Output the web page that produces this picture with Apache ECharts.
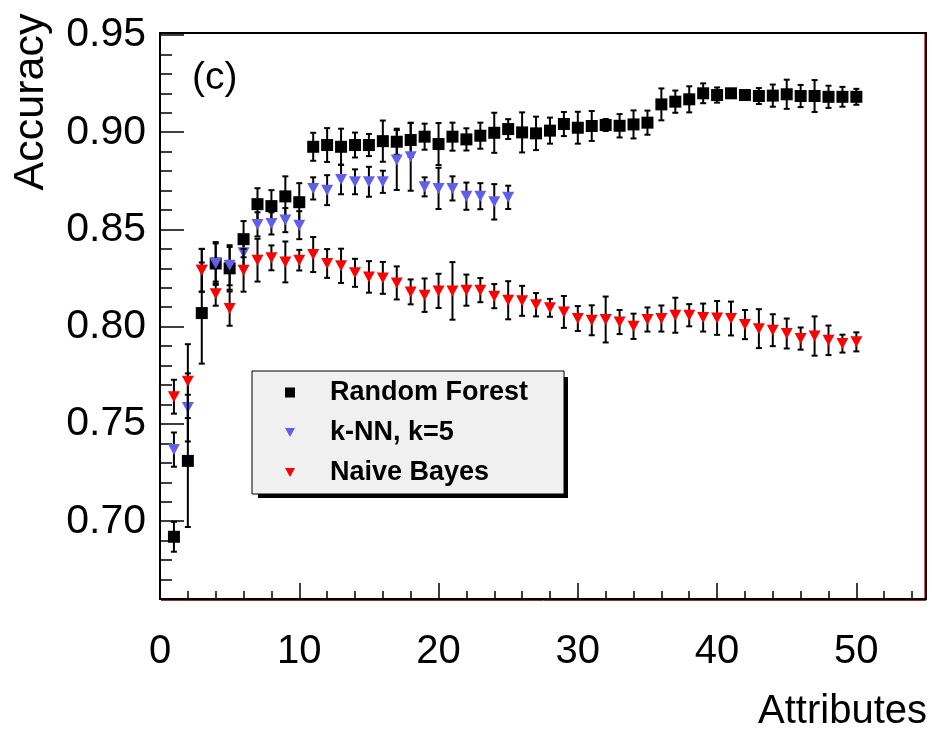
<!DOCTYPE html>
<html>
<head>
<meta charset="utf-8">
<script src="https://cdn.jsdelivr.net/npm/echarts@6/dist/echarts.min.js"></script>
<style>
html,body{margin:0;padding:0;background:#fff;}
#chart{width:932px;height:733px;}
</style>
</head>
<body>
<div id="chart"></div>
<script>
// ---- data ----
const attributes = [1,2,3,4,5,6,7,8,9,10,11,12,13,14,15,16,17,18,19,20,21,22,23,24,25,26,27,28,29,30,31,32,33,34,35,36,37,38,39,40,41,42,43,44,45,46,47,48,49,50];
const knnAttributes = [1,2,3,4,5,6,7,8,9,10,11,12,13,14,15,16,17,18,19,20,21,22,23,24,25];

const rfAcc = [0.692,0.731,0.807,0.8325,0.830,0.845,0.863,0.862,0.867,0.864,
  0.8925,0.8934,0.8925,0.8934,0.8934,0.8954,0.8951,0.896,0.8977,0.8939,
  0.8977,0.8963,0.8982,0.8997,0.9016,0.8999,0.8994,0.9008,0.9042,0.9023,
  0.9032,0.9037,0.9033,0.904,0.9049,0.9143,0.9157,0.9169,0.920,0.9191,
  0.920,0.9191,0.9186,0.9188,0.9195,0.9186,0.9186,0.9182,0.9182,0.9182];
const rfErr = [0.0077,0.034,0.026,0.011,0.011,0.0093,0.0082,0.0082,0.0103,0.0098,
  0.0072,0.0087,0.0093,0.0064,0.0057,0.0106,0.0067,0.0087,0.0067,0.0108,
  0.0072,0.0057,0.0067,0.0103,0.0051,0.0103,0.0086,0.0067,0.0062,0.0082,
  0.0077,0.0031,0.006,0.0072,0.0062,0.0082,0.0057,0.0067,0.0051,0.0039,
  0.001,0.001,0.0041,0.0057,0.0075,0.0057,0.0082,0.0057,0.0051,0.0041];

const knnAcc = [0.7368,0.7585,0.829,0.8325,0.8316,0.838,0.8526,0.8531,0.8548,0.8522,
  0.8711,0.8702,0.8757,0.8745,0.8745,0.8745,0.8857,0.8874,0.8719,0.8711,
  0.8711,0.8671,0.8671,0.8642,0.8665];
const knnErr = [0.0088,0.0175,0.011,0.0103,0.0103,0.0077,0.0062,0.0057,0.0062,0.0072,
  0.0057,0.0077,0.0076,0.0064,0.0077,0.0057,0.0154,0.0175,0.0049,0.0106,
  0.0062,0.007,0.0067,0.0091,0.006];

const nbAcc = [0.764,0.772,0.829,0.817,0.8093,0.829,0.8342,0.8354,0.8333,0.8342,
  0.8371,0.8325,0.8313,0.8277,0.8256,0.8251,0.8225,0.8179,0.8162,0.8184,
  0.8184,0.8188,0.8188,0.8157,0.8136,0.8133,0.8113,0.8097,0.8076,0.8042,
  0.8033,0.8037,0.8024,0.8002,0.8037,0.8042,0.8059,0.8059,0.8047,0.8045,
  0.8042,0.8011,0.799,0.7982,0.7965,0.7939,0.7952,0.793,0.7913,0.7922];
const nbErr = [0.0087,0.019,0.011,0.0062,0.0088,0.011,0.011,0.0064,0.0105,0.0053,
  0.009,0.0074,0.0088,0.0072,0.0081,0.0082,0.0085,0.0064,0.0086,0.0088,
  0.0148,0.008,0.0062,0.0062,0.0098,0.0077,0.006,0.0046,0.0082,0.0064,
  0.0077,0.0118,0.0062,0.0065,0.0062,0.0067,0.009,0.0057,0.0072,0.0087,
  0.0087,0.0075,0.01,0.0082,0.0077,0.0057,0.0101,0.0076,0.0046,0.0049];

const seriesNames = ['Random Forest','k-NN, k=5','Naive Bayes'];
const xTickLabels = [0,10,20,30,40,50];
const xMinorTicks = [2,4,6,8,12,14,16,18,22,24,26,28,32,34,36,38,42,44,46,48,52,54];
const yTickLabels = [0.70,0.75,0.80,0.85,0.90,0.95];
const yMinorTicks = [0.67,0.68,0.69,0.71,0.72,0.73,0.74,0.76,0.77,0.78,0.79,0.81,0.82,0.83,0.84,0.86,0.87,0.88,0.89,0.91,0.92,0.93,0.94];

// ---- chart ----
const FONT = "'Liberation Sans', Arial, Helvetica, sans-serif";
const TRI_DOWN = 'path://M0,0L10,0L5,9Z';

function pts(xs, ys) { return xs.map((x,i)=>[x, ys[i]]); }
function errPts(xs, ys, es) { return xs.map((x,i)=>[x, ys[i], es[i]]); }

function errRender(params, api) {
  const x = api.value(0), y = api.value(1), e = api.value(2);
  const top = api.coord([x, y + e]);
  const bot = api.coord([x, y - e]);
  const cw = 3;
  const st = {stroke:'#000', lineWidth:2};
  return {type:'group', children:[
    {type:'line', shape:{x1:top[0], y1:top[1], x2:bot[0], y2:bot[1]}, style:st},
    {type:'line', shape:{x1:top[0]-cw, y1:top[1], x2:top[0]+cw, y2:top[1]}, style:st},
    {type:'line', shape:{x1:bot[0]-cw, y1:bot[1], x2:bot[0]+cw, y2:bot[1]}, style:st}
  ]};
}

const chart = echarts.init(document.getElementById('chart'), null, {renderer:'canvas'});

const baseX = {type:'value', min:0, max:55, gridIndex:0, position:'bottom', splitLine:{show:false}};
const baseY = {type:'value', min:0.66, max:0.951, gridIndex:0, position:'left', splitLine:{show:false}};

chart.setOption({
  animation:false,
  backgroundColor:'#fff',
  grid:{left:160, right:6, top:33, bottom:134, show:true, borderColor:'#000', borderWidth:2, backgroundColor:'transparent'},
  xAxis:[
    Object.assign({}, baseX, {
      axisLine:{show:true, lineStyle:{color:'#000', width:2}},
      axisTick:{show:true, inside:true, length:16, customValues:xTickLabels, lineStyle:{color:'#000', width:1.5}},
      axisLabel:{show:true, customValues:xTickLabels, color:'#000', fontSize:40, fontFamily:FONT, margin:33}
    }),
    Object.assign({}, baseX, {
      axisLine:{show:false},
      axisTick:{show:true, inside:true, length:8, customValues:xMinorTicks, lineStyle:{color:'#000', width:1.5}},
      axisLabel:{show:false}
    })
  ],
  yAxis:[
    Object.assign({}, baseY, {
      axisLine:{show:true, lineStyle:{color:'#000', width:2}},
      axisTick:{show:true, inside:true, length:24, customValues:yTickLabels, lineStyle:{color:'#000', width:1.5}},
      axisLabel:{show:true, customValues:yTickLabels, color:'#000', fontSize:41, fontFamily:FONT, margin:14,
        formatter:v=>v.toFixed(2)}
    }),
    Object.assign({}, baseY, {
      axisLine:{show:false},
      axisTick:{show:true, inside:true, length:12, customValues:yMinorTicks, lineStyle:{color:'#000', width:1.5}},
      axisLabel:{show:false}
    })
  ],
  legend:{
    orient:'vertical', left:252, top:371, z:10,
    data:seriesNames,
    selectedMode:false,
    backgroundColor:'#f0f0f0', borderColor:'#000', borderWidth:1, borderRadius:0,
    padding:[8,36,8,33], itemGap:13, itemWidth:10, itemHeight:10,
    textStyle:{fontFamily:FONT, fontWeight:'bold', fontSize:27, color:'#000', padding:[0,0,0,30]}
  },
  graphic:[
    {type:'rect', left:258, top:377, z:5, shape:{width:310, height:121}, style:{fill:'#000'}},
    {type:'line', z:5, shape:{x1:924.5, y1:34, x2:924.5, y2:598}, style:{stroke:'#e05050', lineWidth:1}},
    {type:'line', z:5, shape:{x1:161, y1:600.5, x2:926, y2:600.5}, style:{stroke:'#a03030', lineWidth:1}},
    {type:'text', left:192, top:59, style:{text:'(c)', fontSize:39, fontFamily:FONT, fill:'#000'}},
    {type:'text', x:927, y:712, style:{text:'Attributes', fontSize:40, fontFamily:FONT, fill:'#000', align:'right', verticalAlign:'middle'}},
    {type:'text', x:31, y:102, rotation:Math.PI/2, style:{text:'Accuracy', fontSize:43, fontFamily:FONT, fill:'#000', align:'center', verticalAlign:'middle'}}
  ],
  series:[
    {name:'rf-err', type:'custom', renderItem:errRender, data:errPts(attributes, rfAcc, rfErr), z:2, silent:true},
    {name:seriesNames[0], type:'scatter', data:pts(attributes, rfAcc), symbol:'rect', symbolSize:12,
      itemStyle:{color:'#000', opacity:1}, z:3},
    {name:'knn-err', type:'custom', renderItem:errRender, data:errPts(knnAttributes, knnAcc, knnErr), z:4, silent:true},
    {name:seriesNames[1], type:'scatter', data:pts(knnAttributes, knnAcc), symbol:TRI_DOWN, symbolSize:[12,11],
      itemStyle:{color:'#5f5fe8', opacity:1}, z:5},
    {name:'nb-err', type:'custom', renderItem:errRender, data:errPts(attributes, nbAcc, nbErr), z:6, silent:true},
    {name:seriesNames[2], type:'scatter', data:pts(attributes, nbAcc), symbol:TRI_DOWN, symbolSize:[12,11],
      itemStyle:{color:'#ff0000', opacity:1}, z:7}
  ]
});
</script>
</body>
</html>
